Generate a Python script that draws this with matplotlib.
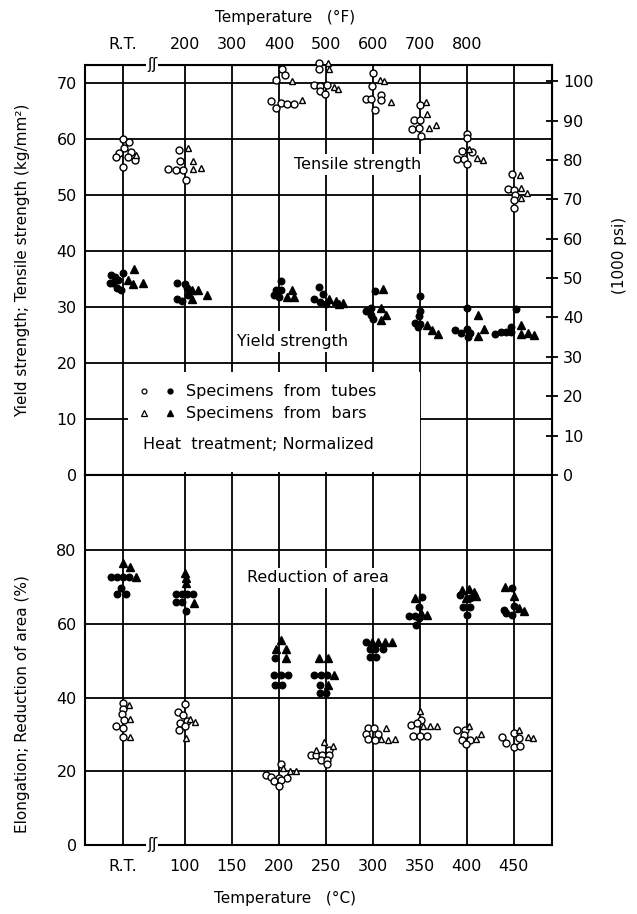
import matplotlib
matplotlib.use('Agg')
import matplotlib.pyplot as plt
from matplotlib.lines import Line2D
from matplotlib.patches import Rectangle
from matplotlib.legend_handler import HandlerTuple

plt.rcParams['font.family'] = ['DejaVu Sans']

# temperature axis (deg C); R.T. sits left of the scale break
RT = 34
grid_t = [RT, 100, 150, 200, 250, 300, 350, 400, 450]
c_labels = ['R.T.', '100', '150', '200', '250', '300', '350', '400', '450']
f_labels = ['R.T.', '200', '300', '400', '500', '600', '700', '800']

# tensile strength (kg/mm2), open marks
ts_tube_t = [34, 40.4, 34.7, 42.9, 29.7, 39.3, 26.9, 46.4, 34,
             93.6, 94.7, 82.3, 90.4, 98.2, 101,
             202.8, 206.4, 197.2, 191.1, 201.8, 208.9, 216, 196.5,
             242.2, 242.9, 236.9, 243.6, 250.7, 243.6, 249.3,
             300, 299.3, 292.9, 298.2, 308.9, 308.9, 301.8,
             350, 343.6, 350, 341.8, 348.9, 350.7,
             400, 400, 394.7, 405.3, 389.4, 396.5, 400,
             448.2, 443.6, 450, 451.5, 450, 450]
ts_tube_v = [59.9, 59.5, 58.3, 57.7, 57.4, 56.8, 56.8, 56.3, 55.0,
             58.1, 56.0, 54.6, 54.4, 54.5, 52.6,
             72.4, 71.5, 70.5, 66.7, 66.5, 66.3, 66.3, 65.5,
             73.6, 72.4, 69.6, 69.4, 69.6, 68.6, 68.1,
             71.7, 69.4, 67.2, 67.2, 67.9, 66.9, 65.1,
             66.0, 63.3, 63.3, 61.8, 61.9, 60.5,
             60.9, 60.1, 57.8, 57.6, 56.5, 56.5, 55.6,
             53.8, 51.1, 50.9, 50.0, 49.1, 47.6]
ts_bar_t = [47.4, 103.5, 108.9, 108.9, 116.7, 213.5, 224.1, 252.1, 252.8,
            258.9, 262.4, 307.1, 311.7, 319.5, 356, 357.1, 359.6, 366.7,
            401.8, 410.6, 417, 456.4, 457.8, 463.5, 457.8]
ts_bar_v = [57.1, 58.4, 56.1, 54.7, 54.8, 70.3, 66.9, 73.5, 72.4,
            69.2, 69.0, 70.5, 70.3, 66.6, 66.6, 64.5, 62.0, 62.4,
            58.2, 56.6, 56.3, 53.5, 51.3, 50.4, 49.4]

# yield strength (kg/mm2), filled marks
ys_tube_t = [21.6, 25.1, 28.7, 23.4, 19.8, 27.6, 32.2, 34,
             91.1, 100, 101.8, 91.1, 96.5, 103.5,
             201.8, 196.5, 201.8, 194.7, 200,
             242.2, 246.5, 237.6, 243.6, 250,
             301.8, 292.9, 298.2, 297.5, 300,
             350, 350, 348.9, 344.7, 350, 347.5,
             400, 387.2, 393.6, 400, 403.5, 400.7,
             451.8, 447.2, 430.1, 436.5, 441.8, 447.2]
ys_tube_v = [35.7, 35.4, 34.8, 34.3, 34.2, 33.4, 33.0, 36.0,
             34.3, 34.1, 33.3, 31.4, 31.1, 32.1,
             34.7, 33.0, 33.0, 32.1, 31.7,
             33.6, 32.4, 31.4, 30.8, 30.5,
             32.9, 29.2, 29.8, 28.6, 27.9,
             32.0, 29.2, 28.3, 27.2, 27.0, 26.5,
             29.8, 25.8, 25.4, 26.0, 25.4, 24.6,
             29.6, 26.5, 25.2, 25.6, 25.6, 25.6]
ys_bar_t = [45.3, 39.3, 44.6, 55.3, 107.1, 114.2, 123, 107.1,
            213.5, 216, 208.9, 252.8, 260.6, 267.7, 264.2,
            310.6, 308.9, 308.2, 314.2, 357.1, 362.4, 368.8,
            411.3, 411.3, 417.7, 457.1, 457.8, 464.9, 471.3]
ys_bar_v = [36.7, 34.8, 34.1, 34.3, 33.0, 33.0, 32.1, 31.4,
            33.1, 31.7, 31.7, 31.5, 31.0, 30.7, 30.5,
            33.2, 29.8, 27.7, 28.5, 26.8, 25.9, 25.2,
            28.6, 24.9, 26.0, 26.8, 25.2, 25.4, 25.0]

# reduction of area (%), filled marks
ra_tube_t = [21.6, 27.6, 34, 40.4, 32.2, 27.6, 36.8,
             90.4, 96.5, 102.5, 108.2, 90.4, 96.5, 101.1,
             195.7, 195, 201.8, 209.9, 195.7, 203.5,
             237.6, 244.7, 250.7, 244, 244, 250,
             292.2, 296.5, 302.5, 310.6, 296.5, 303.5,
             352.5, 349, 338.3, 344.7, 349, 345.4,
             392.9, 403.5, 396.1, 403.5, 400,
             448.2, 450, 439.4, 441.8, 448.2]
ra_tube_v = [72.9, 72.9, 72.9, 72.9, 69.7, 68.3, 68.3,
             68.1, 68.1, 68.1, 68.1, 65.9, 65.9, 63.6,
             50.9, 46.2, 46.2, 46.2, 43.5, 43.5,
             46.2, 46.2, 46.2, 43.5, 41.4, 41.4,
             55.2, 53.3, 53.3, 53.3, 51.2, 51.2,
             67.4, 64.7, 62.3, 62.3, 61.7, 59.8,
             67.9, 67.0, 64.7, 64.7, 62.5,
             69.9, 65.0, 63.9, 62.9, 62.5]
ra_bar_t = [34, 41.8, 47.5, 100, 101.1, 101.1, 109.6,
            201.8, 196.5, 207.1, 207.8, 242.9, 251.8, 258.9, 251.8,
            299.3, 305.3, 312.4, 320.2, 344.7, 350.7, 357.8,
            394.7, 401.8, 407.1, 399.3, 409.6, 440.4, 450, 455.3, 460.6]
ra_bar_v = [76.5, 75.6, 72.9, 73.8, 72.5, 71.1, 65.6,
            55.7, 53.3, 53.3, 50.9, 50.7, 50.7, 46.2, 43.5,
            55.2, 55.2, 55.2, 55.2, 67.2, 62.9, 62.6,
            69.3, 69.6, 68.8, 67.0, 67.5, 70.2, 67.5, 64.3, 63.6]

# elongation (%), open marks
el_tube_t = [34, 34, 33.3, 34.7, 27, 34, 34,
             100, 92.9, 98.2, 102.5, 94.7, 100, 94,
             201.8, 185.8, 191.8, 200, 208.9, 194.7, 201.8, 200,
             253.5, 234, 239.4, 245.7, 253.5, 244.7, 250.7, 250.7,
             294.7, 301.1, 292.9, 305.3, 294.7, 301.8,
             350.7, 340.4, 346.8, 342.2, 350, 357.8,
             389.4, 397.5, 396.5, 394.7, 403.5, 399.3,
             437.6, 450, 455.3, 441.1, 450, 456.4]
el_tube_v = [38.5, 36.9, 35.6, 34.0, 32.2, 31.7, 29.3,
             38.3, 36.0, 35.3, 33.8, 33.1, 32.2, 31.1,
             21.9, 19.0, 18.6, 18.1, 18.1, 17.5, 17.7, 16.0,
             25.8, 24.5, 24.5, 24.5, 24.5, 23.1, 23.1, 22.0,
             31.7, 31.7, 30.2, 30.2, 28.7, 28.5,
             34.0, 32.6, 33.1, 29.6, 29.6, 29.6,
             31.3, 31.3, 29.9, 28.6, 28.6, 27.4,
             29.3, 30.3, 29.0, 27.7, 26.5, 26.9]
el_bar_t = [40.4, 41.1, 41.8, 105.3, 110.6, 101.1, 204.6, 211.7, 217.7,
            248.2, 257.1, 239.4, 314.2, 308.9, 316, 323,
            350, 353.5, 360.6, 367.7, 401.8, 409.9, 414.9,
            455.3, 465.2, 470.6]
el_bar_v = [38.0, 34.2, 29.3, 34.2, 33.5, 29.0, 20.8, 20.2, 20.2,
            28.1, 26.9, 25.8, 31.7, 28.7, 28.5, 28.9,
            36.5, 32.2, 32.2, 32.2, 32.4, 28.7, 30.2,
            31.3, 29.3, 29.0]

FS = 11.5
fig = plt.figure(figsize=(6.37, 9.14), dpi=100)
ax1 = fig.add_axes([0.1334, 0.4803, 0.733, 0.4486])
ax2 = fig.add_axes([0.1334, 0.0755, 0.733, 0.4048])

for ax in (ax1, ax2):
    ax.set_xlim(-6.4, 490.4)
    ax.set_xticks(grid_t)
    ax.grid(True, color='black', linewidth=1.3)
    ax.set_axisbelow(True)
    for s in ax.spines.values():
        s.set_linewidth(1.5)
    ax.tick_params(length=0, labelsize=FS, pad=6)

ax1.set_ylim(0, 73.2)
ax1.set_yticks(range(0, 71, 10))
ax1.tick_params(axis='x', labelbottom=False)

ax2.set_ylim(0, 100.5)
ax2.set_yticks([0, 20, 40, 60, 80])
ax2.set_xticklabels(c_labels)
ax2.tick_params(axis='x', pad=10)

# top deg F labels
top = ax1.secondary_xaxis('top')
top.set_xticks(grid_t[:8])
top.set_xticklabels(f_labels)
top.tick_params(length=0, labelsize=FS, pad=9)

# right axis, 1000 psi
right = ax1.secondary_yaxis('right', functions=(lambda k: k * 1.4223, lambda p: p / 1.4223))
right.set_yticks(range(0, 101, 10))
right.tick_params(direction='inout', length=8, width=1.3, labelsize=FS, pad=4)


def pts(ax, t, v, marker, filled, ms):
    ax.plot(t, v, ls='none', marker=marker, ms=ms,
            mfc='black' if filled else 'white', mec='black', mew=1.0,
            clip_on=False, zorder=4)


pts(ax1, ts_tube_t, ts_tube_v, 'o', False, 5.0)
pts(ax1, ts_bar_t, ts_bar_v, '^', False, 5.0)
pts(ax1, ys_tube_t, ys_tube_v, 'o', True, 4.7)
pts(ax1, ys_bar_t, ys_bar_v, '^', True, 5.2)
pts(ax2, ra_tube_t, ra_tube_v, 'o', True, 4.7)
pts(ax2, ra_bar_t, ra_bar_v, '^', True, 5.2)
pts(ax2, el_tube_t, el_tube_v, 'o', False, 5.0)
pts(ax2, el_bar_t, el_bar_v, '^', False, 5.0)

wb = dict(facecolor='white', edgecolor='none', pad=2)
ax1.text(284, 55.4, 'Tensile strength', fontsize=FS, ha='center', va='center', bbox=wb, zorder=3)
ax1.text(214, 23.8, 'Yield strength', fontsize=FS, ha='center', va='center', bbox=wb, zorder=3)
ax2.text(241, 72.6, 'Reduction of area', fontsize=FS, ha='center', va='center', bbox=wb, zorder=3)

# legend area blanks the grid
ax1.add_patch(Rectangle((39.4, 0.5), 310.6, 17.9, facecolor='white', edgecolor='none', zorder=2))
h_to = Line2D([], [], ls='none', marker='o', ms=3.5, mfc='white', mec='black', mew=0.9)
h_tf = Line2D([], [], ls='none', marker='o', ms=3.5, mfc='black', mec='black')
h_bo = Line2D([], [], ls='none', marker='^', ms=4, mfc='white', mec='black', mew=0.9)
h_bf = Line2D([], [], ls='none', marker='^', ms=4, mfc='black', mec='black')
leg = ax1.legend([(h_to, h_tf), (h_bo, h_bf)],
                 ['Specimens  from  tubes', 'Specimens  from  bars'],
                 handler_map={tuple: HandlerTuple(ndivide=None, pad=0.6)},
                 loc='upper left', bbox_to_anchor=(48, 16.2), bbox_transform=ax1.transData,
                 frameon=False, fontsize=FS, handlelength=2.6, handletextpad=0.5,
                 labelspacing=0.45, borderpad=0, borderaxespad=0)
leg.set_zorder(3)
ax1.text(55, 5.5, 'Heat  treatment; Normalized', fontsize=FS, ha='left', va='center', zorder=3)

# scale break marks
for ax, yb in ((ax1, 73.2), (ax2, 0)):
    ax.text(65, yb, 'ʃʃ', fontsize=11, ha='center', va='center', clip_on=False,
            bbox=dict(facecolor='white', edgecolor='none', pad=0.5), zorder=5)

fig.text(0.035, 0.715, 'Yield strength; Tensile strength (kg/mm²)', rotation=90,
         ha='center', va='center', fontsize=11)
fig.text(0.035, 0.23, 'Elongation; Reduction of area (%)', rotation=90,
         ha='center', va='center', fontsize=11)
fig.text(0.973, 0.72, '(1000 psi)', rotation=90, ha='center', va='center', fontsize=11)
fig.text(0.447, 0.981, 'Temperature   (°F)', ha='center', va='center', fontsize=11)
fig.text(0.447, 0.017, 'Temperature   (°C)', ha='center', va='center', fontsize=11)

fig.savefig('out.png', dpi=100)
